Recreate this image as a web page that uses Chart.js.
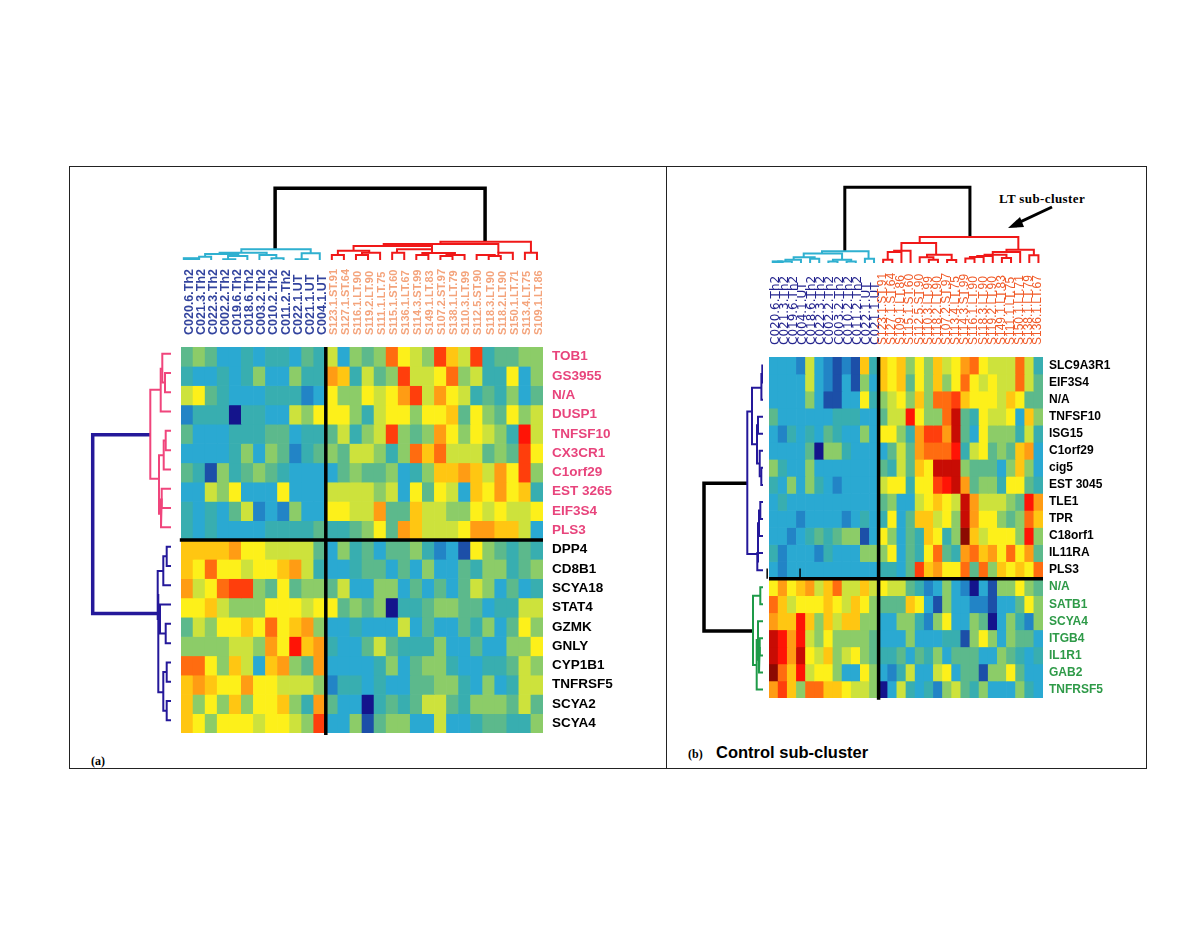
<!DOCTYPE html>
<html>
<head>
<meta charset="utf-8">
<title>Heatmaps</title>
<script src="https://cdn.jsdelivr.net/npm/chart.js@4"></script>
<style>
    body { margin: 0; background: #fff; width: 1200px; height: 927px; position: relative; overflow: hidden; }
    canvas { position: absolute; filter: blur(.4px); }
    .box { position: absolute; border: 1px solid #222; box-sizing: border-box; }
    .note { position: absolute; color: #000; white-space: nowrap; font-weight: bold; }
    .serif { font-family: "Liberation Serif", serif; }
    .sans { font-family: "Liberation Sans", sans-serif; }
</style>
</head>
<body>
<div class="box" style="left:69px;top:166px;width:598px;height:603px"></div>
<div class="box" style="left:666px;top:166px;width:481px;height:603px"></div>
<div class="note serif" style="left:91px;top:754px;font-size:12px">(a)</div>
<div class="note serif" style="left:688px;top:747px;font-size:12px">(b)</div>
<div class="note sans" style="left:716px;top:743px;font-size:16.5px">Control sub-cluster</div>
<div class="note serif" style="left:999px;top:191px;font-size:13px;letter-spacing:.4px">LT sub-cluster</div>
<svg style="position:absolute;left:1000px;top:200px" width="60" height="35">
    <line x1="52" y1="7" x2="16" y2="24" stroke="#000" stroke-width="3"/>
    <polygon points="8,28 20,17 24,27" fill="#000"/>
</svg>

<canvas id="heatA" width="440" height="487" style="left:178px;top:250px"></canvas>
<canvas id="heatB" width="350" height="454" style="left:766px;top:248px"></canvas>
<canvas id="topA" width="362" height="80" style="left:181px;top:180px"></canvas>
<canvas id="topB" width="274" height="85" style="left:769px;top:178px"></canvas>
<canvas id="sideA" width="90" height="386" style="left:81px;top:344px"></canvas>
<canvas id="sideB" width="70" height="341" style="left:693px;top:357px"></canvas>

<script>
// sample and gene names
const samplesA = ['C020.6.Th2', 'C021.3.Th2', 'C022.3.Th2', 'C002.2.Th2', 'C019.6.Th2', 'C018.6.Th2', 'C003.2.Th2', 'C010.2.Th2', 'C011.2.Th2', 'C022.1.UT', 'C021.1.UT', 'C004.1.UT',
    'S123.1.ST.91', 'S127.1.ST.64', 'S116.1.LT.90', 'S119.2.LT.90', 'S111.1.LT.75', 'S115.1.ST.60', 'S136.1.LT.67', 'S114.3.ST.99', 'S149.1.LT.83', 'S107.2.ST.97', 'S138.1.LT.79', 'S110.3.LT.99', 'S112.5.ST.90', 'S118.3.LT.90', 'S118.2.LT.90', 'S150.1.LT.71', 'S113.4.LT.75', 'S109.1.LT.86'];
const genesA = ['TOB1', 'GS3955', 'N/A', 'DUSP1', 'TNFSF10', 'CX3CR1', 'C1orf29', 'EST 3265', 'EIF3S4', 'PLS3',
    'DPP4', 'CD8B1', 'SCYA18', 'STAT4', 'GZMK', 'GNLY', 'CYP1B1', 'TNFRSF5', 'SCYA2', 'SCYA4'];
const samplesB = ['C020.6.Th2', 'C021.3.Th2', 'C019.6.Th2', 'C004.1.UT', 'C018.6.Th2', 'C022.3.Th2', 'C002.2.Th2', 'C003.2.Th2', 'C010.2.Th2', 'C011.2.Th2', 'C022.1.UT', 'C021.1.UT',
    'S123.1.ST.91', 'S127.1.ST.64', 'S109.1.LT.86', 'S115.1.ST.60', 'S112.5.ST.90', 'S110.3.LT.99', 'S118.2.LT.90', 'S107.2.ST.97', 'S113.4.LT.75', 'S114.3.ST.99', 'S116.1.LT.90', 'S118.3.LT.90', 'S119.2.LT.90', 'S149.1.LT.83', 'S111.1.LT.75', 'S150.1.LT.71', 'S138.1.LT.79', 'S136.1.LT.67'];
const genesB = ['SLC9A3R1', 'EIF3S4', 'N/A', 'TNFSF10', 'ISG15', 'C1orf29', 'cig5', 'EST 3045', 'TLE1', 'TPR', 'C18orf1', 'IL11RA', 'PLS3',
    'N/A', 'SATB1', 'SCYA4', 'ITGB4', 'IL1R1', 'GAB2', 'TNFRSF5'];

// expression level per cell, 0 (lowest) to 15 (highest), one list per gene
const levelsA = [
    [5,6,5,3,3,4,3,4,4,3,5,4, 7,3,6,5,6,11,8,7,6,12,9,7,12,4,5,5,6,6],
    [4,3,3,4,3,4,6,3,3,6,4,4, 10,9,4,7,5,6,12,7,7,8,11,6,7,4,4,8,3,6],
    [7,8,5,4,3,3,3,4,4,4,2,3, 8,6,6,8,7,8,10,12,7,10,8,7,4,5,4,6,3,5],
    [2,4,4,4,0,4,4,3,3,7,6,8, 8,8,6,4,7,8,8,6,8,8,9,5,8,6,5,8,6,7],
    [5,3,3,3,4,4,4,5,5,3,4,4, 5,7,4,6,7,12,6,5,6,10,8,6,8,7,6,4,13,7],
    [3,3,3,3,4,6,3,6,5,2,4,5, 6,5,7,7,6,4,6,11,9,11,7,7,7,5,6,5,12,8],
    [5,4,1,6,4,5,6,5,4,3,3,3, 3,5,6,5,5,6,3,4,6,9,9,10,9,7,10,8,12,6],
    [3,3,7,6,8,3,3,3,8,3,3,3, 7,7,7,7,6,7,3,8,5,8,7,3,9,8,10,8,9,4],
    [4,3,4,3,5,7,2,3,2,6,3,3, 8,8,7,7,10,5,5,9,7,7,6,6,8,7,8,7,7,8],
    [4,3,4,3,3,3,3,4,4,4,4,5, 4,4,5,6,8,5,10,9,7,7,7,8,10,10,9,9,7,3],
    [9,9,9,9,10,8,8,7,7,7,7,5, 3,6,4,5,3,5,5,6,4,2,3,1,8,6,5,4,5,4],
    [9,8,11,8,8,7,8,8,9,10,7,4, 3,3,4,5,5,3,5,3,6,3,3,5,4,6,6,4,5,6],
    [10,7,8,11,12,12,6,5,8,5,6,6, 5,7,3,3,6,6,3,5,3,5,3,5,7,6,3,5,3,4],
    [8,8,9,7,6,6,6,8,8,8,7,8, 8,5,6,5,6,0,4,4,5,6,6,5,5,3,4,4,7,7],
    [5,7,6,8,8,9,8,11,8,9,10,6, 3,3,4,3,3,3,7,3,5,3,3,5,4,6,3,5,8,6],
    [6,6,6,6,7,7,6,10,8,13,9,10, 4,3,3,5,7,5,4,4,4,6,3,3,5,3,3,6,6,8],
    [11,11,8,6,9,7,3,9,10,6,5,10, 3,3,3,3,4,6,3,5,6,6,4,3,3,4,4,5,7,6],
    [9,10,9,8,8,10,8,8,7,7,7,6, 2,4,4,3,4,3,3,5,5,6,6,4,3,6,3,4,7,7],
    [9,6,8,6,9,6,8,8,9,6,4,10, 5,3,3,0,4,5,4,5,7,7,5,4,6,6,6,5,7,5],
    [9,8,6,8,8,8,7,8,8,7,6,12, 3,3,6,1,5,6,6,3,3,7,3,3,4,5,5,4,4,6]
];
const levelsB = [
    [3,3,3,2,7,3,2,1,2,1,9,4, 9,8,9,6,8,6,9,7,8,10,11,8,7,7,7,11,7,4],
    [3,3,3,3,7,3,2,1,3,1,6,3, 9,8,9,5,8,6,9,6,8,11,8,7,8,7,7,11,7,5],
    [3,3,3,3,6,3,1,1,3,3,8,4, 6,7,8,6,9,6,11,11,12,9,8,8,8,7,9,8,5,5],
    [5,3,3,3,3,3,3,4,4,4,3,3, 5,7,7,13,8,6,6,11,14,5,4,8,7,7,8,3,9,6],
    [3,2,4,3,4,3,5,4,3,3,6,3, 8,8,6,4,10,12,12,10,14,5,3,8,6,6,6,4,7,4],
    [3,3,3,3,5,0,6,6,4,3,3,3, 3,5,7,5,10,11,11,11,13,4,7,8,5,6,5,9,10,3],
    [6,4,3,3,6,3,3,3,3,3,3,3, 5,4,7,5,9,8,14,14,14,6,5,5,5,3,6,9,6,3],
    [4,3,6,3,6,4,3,2,3,3,3,3, 7,8,8,4,8,8,12,13,14,10,5,6,6,4,8,8,5,4],
    [3,4,3,3,3,3,3,3,3,3,3,3, 5,6,3,3,7,8,9,8,7,14,10,7,7,7,6,5,13,10],
    [3,3,3,2,3,3,3,3,2,3,4,3, 4,8,3,5,9,9,7,8,6,14,10,8,8,6,5,6,11,9],
    [3,3,2,3,4,5,4,5,6,6,1,3, 8,6,3,5,4,9,8,4,6,15,9,7,8,8,8,6,13,6],
    [4,2,3,3,3,2,4,3,3,3,6,6, 6,8,3,5,4,8,11,5,4,10,11,9,10,8,11,8,10,5],
    [3,2,3,3,3,3,3,3,3,3,3,3, 4,4,3,5,12,9,10,8,8,11,5,11,6,9,8,9,8,11],
    [8,10,8,9,10,7,9,11,7,7,9,7, 8,7,7,5,4,2,3,6,3,2,0,3,1,6,6,8,6,5],
    [11,9,7,8,8,8,9,8,7,9,8,6, 5,5,5,9,8,3,1,6,3,3,2,2,1,3,3,5,8,6],
    [10,9,9,13,9,6,9,7,9,9,6,6, 3,3,6,6,4,2,6,8,3,3,6,5,0,3,6,4,2,6],
    [14,13,10,13,7,6,8,6,6,6,6,5, 3,3,3,6,3,3,3,4,4,1,6,8,6,3,6,5,5,3],
    [14,13,10,14,8,7,9,6,7,8,6,5, 4,4,5,3,5,4,6,3,5,5,5,3,3,6,5,4,3,4],
    [15,11,9,13,7,8,8,6,3,3,8,6, 3,2,4,7,3,3,7,8,3,5,5,1,6,6,8,5,3,3],
    [10,12,9,6,11,11,9,9,8,7,7,6, 0,3,7,4,3,4,2,6,7,5,4,6,3,3,3,6,4,3]
];

// dendrogram joins: [position 1, position 2, join height, height of branch 1, height of branch 2]
const topCyanA = [[.5,1.5,.8,0,0],[.6,1.4,.4,0,0],[1.5,2.5,3.3,.8,0],[3.5,4.5,.8,0,0],[3.9,5.5,4,.8,0],[2,4.75,6,3.3,4],[7.5,8.5,1.7,0,0],[6.5,7.9,5,0,1.7],[3.2,7.1,7.3,6,5],[9.5,10.5,.8,0,0],[10,11.5,6.7,.8,0],[5,10.75,10.7,7.3,6.7]];
const topBlobA = [[.15,1.5,.8,.8,.8]];
const topRedA = [[12.5,13.5,5,0,0],[14.5,15.5,5,0,0],[15,16.5,7.3,5,0],[13,15.6,9.3,5,7.3],[17.5,18.5,7.3,0,0],[19.5,20.5,5,0,0],[21.5,22.5,4,0,0],[22,23.5,5,4,0],[20,22.7,7,5,5],[17.9,20.8,10.7,7.3,7],[14.3,20.8,14,9.3,10.7],[25.5,26.5,4,0,0],[24.5,26,5,0,4],[26.3,27.5,7.3,5,0],[28.5,29.5,7.3,0,0],[16.8,26.3,16,14,7.3],[21.5,29,18.3,16,7.3]];
const topRootA = [[7.8,25.2,71.7,10.7,18.3]];
const topCyanB = [[.5,1.5,.7,0,0],[1,2.5,1.5,.7,0],[1.8,3.5,3.3,1.5,0],[4.5,5.5,4.3,0,0],[2.7,5,5.7,3.3,4.3],[6.5,7.5,1.5,0,0],[8.5,9.5,1.5,0,0],[7,9,3.3,1.5,1.5],[3.8,8,9.5,5.7,3.3],[10.5,11.5,4.3,0,0],[5.8,10.9,11.7,9.5,4.3]];
const topBlobB = [[.3,1.5,.6,.6,.6]];
const topRedB = [[12.5,13.5,3.3,0,0],[13,14.5,11,3.3,0],[13.7,15.5,12.3,11,0],[17.5,18.5,3.3,0,0],[16.5,18,5.7,0,3.3],[19.5,20.5,3,0,0],[17.3,20,8.3,5.7,3],[14.5,18.3,20,12.3,8.3],[21.5,22.5,4.5,0,0],[22,23.5,6,4.5,0],[22.8,24.5,7,6,0],[25.5,26.5,5,0,0],[23.6,26,8.3,7,5],[24.5,27.5,11,8.3,0],[28.5,29.5,7.7,0,0],[26,29,13.3,11,7.7],[16.5,27.3,26,20,13.3]];
const topRootB = [[8.3,22,75.7,11.7,26]];

// side dendrograms: position is the row, height runs away from the heatmap
const sidePinkA = [[1.5,2.5,6,0,0],[.5,2,8.7,0,6],[1.28,3.5,10.3,8.7,0],[4.5,5.5,5.3,0,0],[5,6.5,7.3,5.3,0],[7.5,8.5,9.3,0,0],[8,9.5,10,9.3,0],[5.77,8.8,12,7.3,10],[2.37,6.98,20.7,10.3,12]];
const sideBlueA = [[10.5,11.5,4.3,0,0],[11,12.5,7.7,4.3,0],[14.5,15.5,5.3,0,0],[13.5,15,11,0,5.3],[11.76,14.25,13.3,7.7,11],[16.5,17.5,4.3,0,0],[18.5,19.5,4.3,0,0],[17,19,7.7,4.3,4.3],[13,18.04,12.7,13.3,7.7]];
const sideRootA = [[4.7,13.97,78.3,20.7,12.7]];
const sideNavyB = [[.5,1.5,.7,0,0],[1,2.5,1.6,.7,0],[3.5,4.5,5,0,0],[6.5,7.5,1.7,0,0],[5.5,7,3.3,0,1.7],[4,6.25,6,5,3.3],[1.8,5.12,11,1.6,6],[8.5,9.5,2.7,0,0],[9,10.5,4,2.7,0],[9.75,12,5,4,5.7],[11.5,12.5,5.7,0,0],[3.2,11.55,15.7,11,5]];
const sideGreenB = [[13.5,14.5,2.7,0,0],[16.5,17.5,3.3,0,0],[17,18.5,4,3.3,0],[15.5,17.75,5,0,4],[16.6,19.5,6.3,5,0],[14,18.07,10,2.7,6.3]];
const sideRootB = [[7.4,16.07,59,15.7,10]];

// black dividers of each heatmap: [column 1, row 1, column 2, row 2]
const dividersA = [[12,0,12,20.1],[-.1,10,30,10]];
const dividersB = [[12,0,12,20.1],[0,13,30,13],[-.2,12.4,-.2,13],[3.4,12.4,3.4,13]];

// colour of each level
const levelColors = ['#14148c', '#1c4fa8', '#2284c6', '#2aa9d2', '#38aeb0', '#5cb98c', '#8ccc68', '#cde23c', '#fdf01a', '#ffc612', '#ff9c14', '#ff6c10', '#ff3e0c', '#ff1406', '#c80c04', '#8c0a02'];

// axes keep to the size asked for, long rotated labels must not push the plot inward
function fixSize(scale, key, size) {
    scale[key] = size;
    scale.paddingLeft = scale.paddingRight = scale.paddingTop = scale.paddingBottom = 0;
}

function heatmap(id, samples, genes, levels, dividers, opts) {
    const datasets = levels.map(row => ({
        type: 'bar',
        data: row.map(() => 1),
        backgroundColor: row.map(v => levelColors[v]),
        barPercentage: 1,
        categoryPercentage: 1,
        grouped: false,
        order: 1
    }));
    dividers.forEach(d => datasets.push({
        type: 'scatter',
        data: [{ x: d[0], y: d[1] }, { x: d[2], y: d[3] }],
        xAxisID: 'xLine',
        yAxisID: 'yLine',
        showLine: true,
        pointRadius: 0,
        borderColor: '#000',
        borderWidth: d[0] === d[2] && d[3] - d[1] < 1 ? 1.5 : 3.5,
        clip: false,
        order: 0
    }));
    new Chart(document.getElementById(id), {
        type: 'bar',
        data: { labels: samples, datasets: datasets },
        options: {
            responsive: false,
            animation: false,
            events: [],
            layout: { padding: opts.padding },
            plugins: { legend: { display: false }, tooltip: { enabled: false } },
            scales: {
                x: {
                    position: 'top',
                    stacked: true,
                    grid: { display: false, drawTicks: false },
                    border: { display: false },
                    afterFit: scale => fixSize(scale, 'height', opts.topHeight),
                    ticks: {
                        autoSkip: false,
                        minRotation: 90,
                        maxRotation: 90,
                        padding: opts.sampleGap,
                        labelOffset: opts.sampleShift,
                        font: ctx => (ctx.index < 12 ? opts.controlFont : opts.patientFont),
                        color: ctx => (ctx.index < 12 ? opts.controlColor : opts.patientColor)
                    }
                },
                y: { stacked: true, reverse: true, min: 0, max: 20, display: false },
                xLine: { type: 'linear', offset: false, min: 0, max: 30, display: false },
                yLine: { type: 'linear', reverse: true, min: 0, max: 20, display: false },
                genes: {
                    type: 'category',
                    labels: genes,
                    position: 'right',
                    offset: true,
                    grid: { display: false, drawTicks: false },
                    border: { display: false },
                    afterFit: scale => fixSize(scale, 'width', opts.rightWidth),
                    ticks: {
                        autoSkip: false,
                        padding: opts.geneGap,
                        font: opts.geneFont,
                        color: ctx => (ctx.index < opts.firstGroup ? opts.geneColors[0] : opts.geneColors[1])
                    }
                }
            }
        }
    });
}

// every join is a three sided bracket
function linkSets(links, color, width, sideways) {
    return links.map(l => {
        const pts = [[l[0], l[3]], [l[0], l[2]], [l[1], l[2]], [l[1], l[4]]];
        return {
            data: pts.map(p => (sideways ? { x: p[1], y: p[0] } : { x: p[0], y: p[1] })),
            showLine: true,
            pointRadius: 0,
            borderColor: color,
            borderWidth: width,
            borderJoinStyle: 'miter',
            clip: false
        };
    });
}

function dendrogram(id, sets, sideways, extent) {
    const count = sideways ? 20 : 30;
    new Chart(document.getElementById(id), {
        type: 'scatter',
        data: { datasets: sets },
        options: {
            responsive: false,
            animation: false,
            events: [],
            plugins: { legend: { display: false }, tooltip: { enabled: false } },
            scales: sideways ? {
                x: { min: 0, max: extent, reverse: true, display: false },
                y: { min: 0, max: count, reverse: true, display: false }
            } : {
                x: { min: 0, max: count, display: false },
                y: { min: 0, max: extent, display: false }
            }
        }
    });
}

heatmap('heatA', samplesA, genesA, levelsA, dividersA, {
    padding: { left: 3, bottom: 4, top: 0, right: 0 },
    topHeight: 97,
    rightWidth: 75,
    sampleGap: 12,
    sampleShift: 15,
    geneGap: 9,
    controlFont: { family: 'Liberation Sans', size: 12.5, weight: 'bold', lineHeight: 1 },
    patientFont: { family: 'Liberation Sans', size: 11, weight: 'bold' },
    controlColor: '#33449e',
    patientColor: '#f4a47c',
    geneFont: { family: 'Liberation Sans', size: 13.5, weight: 'bold' },
    geneColors: ['#e8447c', '#000'],
    firstGroup: 10
});
heatmap('heatB', samplesB, genesB, levelsB, dividersB, {
    padding: { left: 3, bottom: 4, top: 0, right: 0 },
    topHeight: 109,
    rightWidth: 73,
    sampleGap: 12,
    sampleShift: 14,
    geneGap: 6,
    controlFont: { family: 'DejaVu Sans', size: 12, lineHeight: 1 },
    patientFont: { family: 'Liberation Sans', size: 12 },
    controlColor: '#24248e',
    patientColor: '#f05a28',
    geneFont: { family: 'Liberation Sans', size: 12, weight: 'bold' },
    geneColors: ['#000', '#2e9a48'],
    firstGroup: 13
});

dendrogram('topA', [...linkSets(topCyanA, '#2fb0d0', 2), ...linkSets(topBlobA, '#2fb0d0', 4), ...linkSets(topRedA, '#f01818', 2), ...linkSets(topRootA, '#000', 3.5)], false, 80);
dendrogram('topB', [...linkSets(topCyanB, '#2fb0d0', 2), ...linkSets(topBlobB, '#2fb0d0', 4), ...linkSets(topRedB, '#f01818', 2), ...linkSets(topRootB, '#000', 3)], false, 85);
dendrogram('sideA', [...linkSets(sidePinkA, '#f0457c', 2, true), ...linkSets(sideBlueA, '#24189a', 2, true), ...linkSets(sideRootA, '#24189a', 3.5, true)], true, 90);
dendrogram('sideB', [...linkSets(sideNavyB, '#24189a', 2, true), ...linkSets(sideGreenB, '#1e9a48', 2, true), ...linkSets(sideRootB, '#000', 3.5, true)], true, 70);
</script>
</body>
</html>
